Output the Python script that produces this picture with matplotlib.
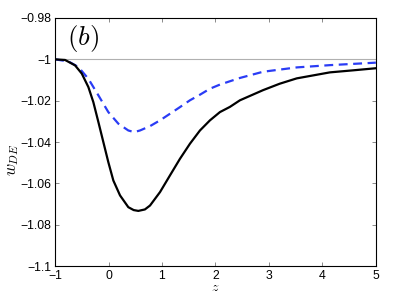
import numpy as np
import matplotlib.pyplot as plt

# values
z_solid = [-1, -0.813, -0.626, -0.5, -0.377, -0.284, -0.19, -0.097, -0.004, 0.09, 0.215, 0.37, 0.47,
	0.557, 0.68, 0.776, 0.963, 1.15, 1.336, 1.523, 1.71, 1.897, 2.084, 2.27, 2.458, 2.89, 3.2, 3.52,
	4.14, 4.58, 5]
w_solid = [-1.0, -1.0003, -1.0029, -1.0069, -1.0134, -1.0207, -1.0303, -1.040, -1.0497, -1.0586, -1.0658, -1.0715, -1.0729,
	-1.0733, -1.0726, -1.0707, -1.0642, -1.0561, -1.0481, -1.0408, -1.0344, -1.0295, -1.0255, -1.023, -1.0198, -1.0149, -1.0118, -1.0092,
	-1.0063, -1.0053, -1.0043]

z_dash = [-1, -0.75, -0.564, -0.377, -0.19, -0.004, 0.183, 0.37, 0.48, 0.589, 0.776, 0.963, 1.15, 1.336,
	1.523, 1.71, 1.897, 2.084, 2.27, 2.458, 2.89, 3.52, 4.14, 5]
w_dash = [-1.0, -1.001, -1.0037, -1.0094, -1.0174, -1.0255, -1.0311, -1.0344, -1.0352, -1.0344, -1.0323, -1.0295, -1.0263, -1.0231,
	-1.0198, -1.0171, -1.0142, -1.0122, -1.0106, -1.009, -1.006, -1.0039, -1.0028, -1.0016]

xticks = [-1, 0, 1, 2, 3, 4, 5]
yticks = [-1.1, -1.08, -1.06, -1.04, -1.02, -1, -0.98]
yticklabels = ['\u22121.1', '\u22121.08', '\u22121.06', '\u22121.04', '\u22121.02', '\u22121', '\u22120.98']
xticklabels = ['\u22121', '0', '1', '2', '3', '4', '5']

plt.rcParams.update({'font.family': 'Liberation Sans', 'font.size': 8.8, 'mathtext.fontset': 'cm'})
fig = plt.figure(figsize=(3.99, 3.0), dpi=100)
ax = fig.add_axes([0.138, 0.113, 0.804, 0.827])

ax.axhline(-1, color='#b0b0b0', lw=0.8)
ax.plot(z_dash, w_dash, '--', color='#2a3cf5', lw=1.6, dashes=(4, 2.5))
ax.plot(z_solid, w_solid, color='black', lw=1.6, solid_joinstyle='round')

ax.set_xlim(-1, 5)
ax.set_ylim(-1.1, -0.98)
ax.set_xticks(xticks)
ax.set_xticklabels(xticklabels)
ax.set_yticks(yticks)
ax.set_yticklabels(yticklabels)
ax.tick_params(direction='in', top=True, right=True, length=3, width=0.6, color='#777777', pad=2.5)
for s in ax.spines.values():
	s.set_linewidth(0.8)

ax.text(-0.78, -0.9898, r'$(b)$', fontsize=19.5, va='center', ha='left')
ax.set_xlabel(r'$z$', fontsize=10, labelpad=-1)
ax.set_ylabel(r'$w_{DE}$', fontsize=12, labelpad=4)
ax.yaxis.set_label_coords(-0.105, 0.43)

plt.savefig('out.png', dpi=100)
plt.close()
